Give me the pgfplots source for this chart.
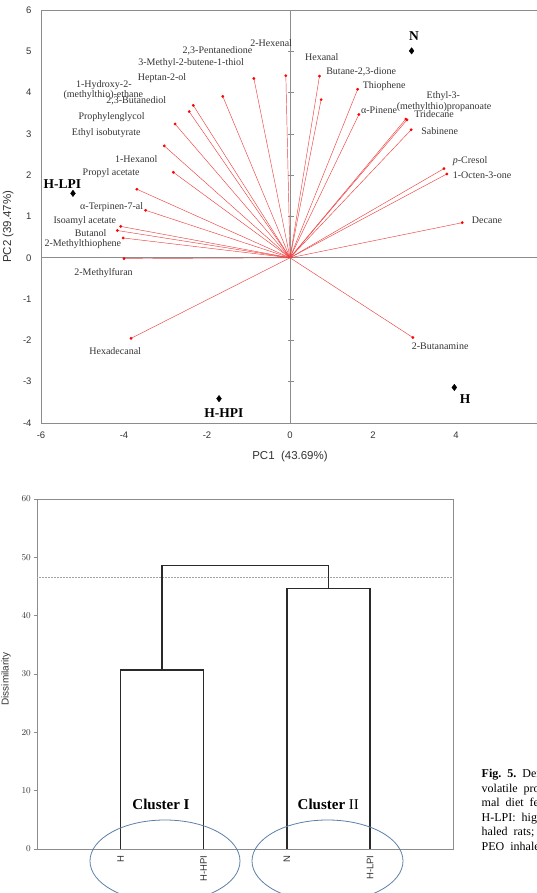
\documentclass[border=0pt]{standalone}
\usepackage{fontspec}
\setmainfont{Liberation Serif}
\setsansfont{Liberation Sans}
\usepackage{pgfplots}
\pgfplotsset{compat=1.18}
\usepackage{pgfplotstable}

\definecolor{boxgray}{HTML}{8C8C8C}
\definecolor{vecred}{HTML}{EE4040}
\definecolor{labgray}{HTML}{333333}
\definecolor{ringblue}{HTML}{5B7FA6}
\definecolor{dendro}{HTML}{2A2A2A}

% PCA loadings of the volatile compounds (o = origin column for the vectors)
\pgfplotstableread{
o x y
0 -0.10 4.41
0 -0.87 4.34
0 -1.62 3.91
0 -2.33 3.69
0 -2.43 3.54
0 -2.77 3.24
0 -3.03 2.71
0 -2.81 2.07
0 -3.69 1.66
0 -3.48 1.15
0 -4.08 0.76
0 -4.16 0.66
0 -4.02 0.48
0 -4.00 -0.02
0 -3.83 -1.95
0 0.71 4.40
0 0.75 3.83
0 1.63 4.08
0 1.66 3.47
0 2.79 3.36
0 2.82 3.34
0 2.92 3.10
0 3.71 2.16
0 3.78 2.03
0 4.15 0.85
0 2.96 -1.93
}\loadings

% PCA scores of the rat groups: H-LPI, H-HPI, N, H
\pgfplotstableread{
x y
-5.23 1.56
-1.71 -3.41
2.93 5.01
3.96 -3.14
}\groups

\tikzset{
  lab/.style={font=\fontsize{10}{12}\selectfont, text=labgray, inner sep=0pt, anchor=west},
  grp/.style={font=\fontsize{13.5}{15}\selectfont\bfseries, text=black, inner sep=0pt},
}

\begin{document}
\begin{tikzpicture}[x=1pt,y=1pt]
% ---------- biplot ----------
\begin{axis}[
  at={(41pt,470pt)}, anchor=south west, scale only axis,
  width=498pt, height=413pt,
  xmin=-6, xmax=6, ymin=-4, ymax=6,
  xtick={-6,-4,...,4}, ytick={-4,-3,...,6},
  tick pos=left,
  major tick length=0pt,
  axis line style={boxgray, line width=0.8pt},
  /pgf/number format/assume math mode=true,
  ticklabel style={font=\fontsize{9.5}{11}\sffamily, text=labgray},
  yticklabel style={xshift=-6pt},
  xticklabel style={yshift=-5pt},
  xlabel={PC1\ \ (43.69\%)}, ylabel={PC2 (39.47\%)},
  label style={font=\fontsize{11.5}{13}\sffamily, text=labgray},
  xlabel style={at={(axis description cs:0.5,-0.08)}, anchor=center},
  ylabel style={at={(axis description cs:-0.066,0.475)}, anchor=center},
  clip=false,
]
\draw[boxgray, line width=0.6pt] (axis cs:-6,0) -- (axis cs:6,0);
\draw[boxgray, line width=0.6pt] (axis cs:0,-4) -- (axis cs:0,6);
% small ticks along the vertical zero line
\pgfplotsinvokeforeach{-4,-3,-2,-1,1,2,3,4,5}{
  \draw[boxgray, line width=0.6pt] ([xshift=-2.5pt]axis cs:0,#1) -- ([xshift=3.5pt]axis cs:0,#1);
}
\addplot[vecred, line width=0.45pt, -, quiver={u=\thisrow{x}, v=\thisrow{y}}]
  table[x=o, y=o] {\loadings};
\addplot[only marks, mark=*, mark size=1.2pt, color=red] table[x=x, y=y] {\loadings};
\addplot[only marks, mark=diamond*, mark size=3.2pt, color=black] table[x=x, y=y] {\groups};

% compound labels
\node[lab] at (axis cs:-0.96,5.20) {2-Hexenal};
\node[lab] at (axis cs:-2.59,5.00) {2,3-Pentanedione};
\node[lab] at (axis cs:-3.66,4.71) {3-Methyl-2-butene-1-thiol};
\node[lab] at (axis cs:-3.67,4.35) {Heptan-2-ol};
\node[lab] at (axis cs:-5.16,4.19) {1-Hydroxy-2-};
\node[lab] at (axis cs:-5.46,3.93) {(methylthio)-ethane};
\node[lab] at (axis cs:-4.43,3.80) {2,3-Butanediol};
\node[lab] at (axis cs:-5.10,3.41) {Prophylenglycol};
\node[lab] at (axis cs:-5.26,3.03) {Ethyl isobutyrate};
\node[lab] at (axis cs:-4.22,2.40) {1-Hexanol};
\node[lab] at (axis cs:-5.00,2.04) {Propyl acetate};
\node[lab] at (axis cs:-5.06,1.22) {α-Terpinen-7-al};
\node[lab] at (axis cs:-5.70,0.88) {Isoamyl acetate};
\node[lab] at (axis cs:-5.19,0.60) {Butanol};
\node[lab] at (axis cs:-5.92,0.32) {2-Methylthiophene};
\node[lab] at (axis cs:-5.20,-0.36) {2-Methylfuran};
\node[lab] at (axis cs:-4.84,-2.25) {Hexadecanal};
\node[lab] at (axis cs:0.36,4.87) {Hexanal};
\node[lab] at (axis cs:0.87,4.50) {Butane-2,3-dione};
\node[lab] at (axis cs:1.75,4.15) {Thiophene};
\node[lab] at (axis cs:1.71,3.58) {α-Pinene};
\node[lab] at (axis cs:3.29,3.91) {Ethyl-3-};
\node[lab] at (axis cs:2.57,3.65) {(methylthio)propanoate};
\node[lab] at (axis cs:2.99,3.49) {Tridecane};
\node[lab] at (axis cs:3.16,3.08) {Sabinene};
\node[lab] at (axis cs:3.92,2.34) {\textit{p}-Cresol};
\node[lab] at (axis cs:3.92,1.99) {1-Octen-3-one};
\node[lab] at (axis cs:4.38,0.90) {Decane};
\node[lab] at (axis cs:2.93,-2.15) {2-Butanamine};

% group labels
\node[grp, anchor=west] at (axis cs:-5.94,1.78) {H-LPI};
\node[grp, anchor=west] at (axis cs:-2.07,-3.76) {H-HPI};
\node[grp] at (axis cs:2.99,5.36) {N};
\node[grp] at (axis cs:4.22,-3.42) {H};
\end{axis}

% ---------- dendrogram ----------
\begin{axis}[
  at={(37.3pt,44pt)}, anchor=south west, scale only axis,
  width=416pt, height=350pt,
  xmin=0, xmax=5, ymin=0, ymax=60,
  xtick={1,2,3,4}, xticklabels={H,H-HPI,N,H-LPI},
  ytick={0,10,...,60},
  tick pos=left, tick align=outside,
  major tick length=3pt,
  axis line style={boxgray, line width=0.8pt},
  ytick style={boxgray, line width=0.6pt},
  xtick style={draw=none},
  xticklabel style={rotate=90, anchor=east, font=\fontsize{9.5}{11}\sffamily, text=labgray},
  yticklabel style={font=\fontsize{9}{10}\sffamily, text=labgray},
  ylabel={Dissimilarity},
  ylabel style={at={(axis description cs:-0.075,0.486)}, anchor=center,
                font=\fontsize{10}{12}\sffamily, text=labgray},
  clip=false,
]
\addplot[boxgray!80, line width=0.5pt, densely dotted] coordinates {(0,46.6) (5,46.6)};
\addplot[dendro, line width=1.3pt] coordinates {(1,0) (1,30.7) (2,30.7) (2,0)};
\addplot[dendro, line width=1.3pt] coordinates {(3,0) (3,44.6) (4,44.6) (4,0)};
\addplot[dendro, line width=1.3pt] coordinates {(1.5,30.7) (1.5,48.6) (3.5,48.6) (3.5,44.6)};
\end{axis}

% cluster rings and names
\draw[ringblue, line width=0.8pt] (165,32) ellipse [x radius=75, y radius=41];
\draw[ringblue, line width=0.8pt] (327.5,32) ellipse [x radius=75.5, y radius=41];
\node[font=\fontsize{15}{18}\selectfont] at (161,89) {\textbf{Cluster I}};
\node[font=\fontsize{15}{18}\selectfont] at (328.3,89) {\textbf{Cluster} II};

% figure caption
\begin{scope}[every node/.style={anchor=base west, inner sep=0pt, font=\fontsize{12}{14.5}\selectfont}]
\node at (481.5,115.0) {\textbf{Fig.\ \ 5.}\ \ Dendrogram of the fecal};
\node at (481.5,100.5) {volatile\ \ profiles. N: rats fed a nor-};
\node at (481.5,86.0) {mal\ \ diet\ \ fed; H: high-fat diet fed;};
\node at (481.5,71.5) {H-LPI:\ \ high-fat diet and low PEO in-};
\node at (481.5,57.0) {haled\ \ rats; H-HPI: high-fat diet and high};
\node at (481.5,42.5) {PEO\ \ inhaled rats.};
\end{scope}

\pgfresetboundingbox
\path (0,0) rectangle (536,893);
\end{tikzpicture}
\end{document}
